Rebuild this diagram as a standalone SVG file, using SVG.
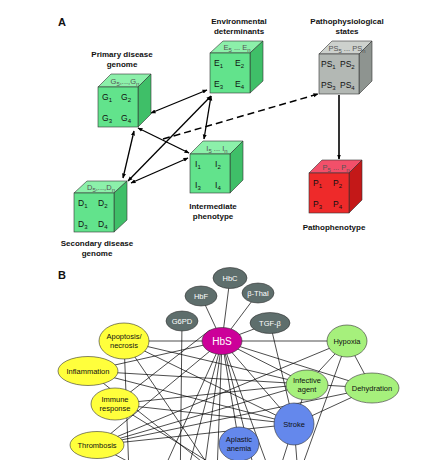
<svg xmlns="http://www.w3.org/2000/svg" width="424" height="460" viewBox="0 0 424 460">
<style>
text{font-family:"Liberation Sans",Arial,sans-serif;}
.lbl{font-size:8px;font-weight:bold;fill:#111;text-anchor:middle;}
.pl{font-size:11px;font-weight:bold;fill:#111;}
.ct{font-size:8.5px;fill:#111;}
.tt{font-size:7.5px;fill:#555;text-anchor:middle;}
.sub{font-size:6px;}
.gf{fill:#62e38c;stroke:#333;stroke-width:0.6;}
.gt{fill:#8cf0aa;stroke:#333;stroke-width:0.6;}
.gs{fill:#3fbf68;stroke:#333;stroke-width:0.6;}
.sf{fill:#b3b8b4;stroke:#333;stroke-width:0.6;}
.st{fill:#cdd1cd;stroke:#333;stroke-width:0.6;}
.ss{fill:#8e9490;stroke:#333;stroke-width:0.6;}
.rf{fill:#ee2a2a;stroke:#333;stroke-width:0.6;}
.rt{fill:#f2506a;stroke:#333;stroke-width:0.6;}
.rs{fill:#c41818;stroke:#333;stroke-width:0.6;}
.arr{stroke:#000;stroke-width:1.3;fill:none;marker-start:url(#ah);marker-end:url(#ah);}
.dash{stroke:#000;stroke-width:1.5;fill:none;stroke-dasharray:7,4;marker-end:url(#ah);}
.solid{stroke:#000;stroke-width:1.6;fill:none;marker-end:url(#ah);}
.net line{stroke:#000;stroke-width:0.7;}
.nt{font-size:7.5px;fill:#111;text-anchor:middle;}
.nw{font-size:7.5px;fill:#fff;text-anchor:middle;}
.gray{fill:#5e6e6c;stroke:#333;stroke-width:0.6;}
.yel{fill:#ffff3c;stroke:#333;stroke-width:0.6;}
.lg{fill:#a6f07c;stroke:#333;stroke-width:0.6;}
.blu{fill:#6488ec;stroke:#333;stroke-width:0.6;}
.mag{fill:#cc0099;stroke:#333;stroke-width:0.6;}
</style>
<defs>
<marker id="ah" viewBox="0 0 10 10" refX="9" refY="5" markerWidth="5" markerHeight="5" orient="auto-start-reverse" markerUnits="userSpaceOnUse">
<path d="M0,1 L10,5 L0,9 z" fill="#000"/>
</marker>
</defs>
<rect width="424" height="460" fill="#fff"/>
<text class="pl" x="58" y="26">A</text>
<text class="pl" x="58" y="279">B</text>

<g id="connectors-A">
<line class="arr" x1="151" y1="113" x2="207" y2="90"/>
<line class="arr" x1="138" y1="128" x2="189" y2="153"/>
<line class="arr" x1="134" y1="131" x2="123" y2="178"/>
<line class="arr" x1="211" y1="96" x2="128" y2="181"/>
<line class="arr" x1="211" y1="96" x2="204" y2="139"/>
<line class="arr" x1="188" y1="158" x2="131" y2="183"/>
<line class="dash" x1="163" y1="139" x2="318" y2="94"/>
<line class="solid" x1="339" y1="95" x2="339" y2="159"/>
</g>

<g id="primary-genome">
<polygon class="gt" points="98,87 111,74 151,74 138,87"/>
<polygon class="gs" points="138,87 151,74 151,114 138,127"/>
<rect class="gf" x="98" y="87" width="40" height="40"/>
<text class="tt" x="125" y="84">G<tspan class="sub" dy="1.5">5</tspan><tspan dy="-1.5">,...,G</tspan><tspan class="sub" dy="1.5">n</tspan></text>
<text class="ct" x="102" y="100">G<tspan class="sub" dy="1.5">1</tspan></text>
<text class="ct" x="121" y="100">G<tspan class="sub" dy="1.5">2</tspan></text>
<text class="ct" x="102" y="121">G<tspan class="sub" dy="1.5">3</tspan></text>
<text class="ct" x="121" y="121">G<tspan class="sub" dy="1.5">4</tspan></text>
<text class="lbl" x="122" y="57">Primary disease</text>
<text class="lbl" x="122" y="67">genome</text>
</g>

<g id="environmental">
<polygon class="gt" points="210,53 223,41 263,41 250,53"/>
<polygon class="gs" points="250,53 263,41 263,81 250,93"/>
<rect class="gf" x="210" y="53" width="40" height="40"/>
<text class="tt" x="237" y="50">E<tspan class="sub" dy="1.5">5</tspan><tspan dy="-1.5"> ... E</tspan><tspan class="sub" dy="1.5">n</tspan></text>
<text class="ct" x="214" y="66">E<tspan class="sub" dy="1.5">1</tspan></text>
<text class="ct" x="235" y="66">E<tspan class="sub" dy="1.5">2</tspan></text>
<text class="ct" x="214" y="87">E<tspan class="sub" dy="1.5">3</tspan></text>
<text class="ct" x="235" y="87">E<tspan class="sub" dy="1.5">4</tspan></text>
<text class="lbl" x="239" y="24">Environmental</text>
<text class="lbl" x="239" y="34">determinants</text>
</g>

<g id="pathophysiological">
<polygon class="st" points="319,54 332,41 372,41 359,54"/>
<polygon class="ss" points="359,54 372,41 372,81 359,94"/>
<rect class="sf" x="319" y="54" width="40" height="40"/>
<text class="tt" x="347" y="51">PS<tspan class="sub" dy="1.5">5</tspan><tspan dy="-1.5"> ... PS</tspan><tspan class="sub" dy="1.5">n</tspan></text>
<text class="ct" x="321" y="67">PS<tspan class="sub" dy="1.5">1</tspan></text>
<text class="ct" x="340" y="67">PS<tspan class="sub" dy="1.5">2</tspan></text>
<text class="ct" x="321" y="88">PS<tspan class="sub" dy="1.5">3</tspan></text>
<text class="ct" x="340" y="88">PS<tspan class="sub" dy="1.5">4</tspan></text>
<text class="lbl" x="347" y="24">Pathophysiological</text>
<text class="lbl" x="347" y="34">states</text>
</g>

<g id="pathophenotype">
<polygon class="rt" points="309,173 322,160 362,160 349,173"/>
<polygon class="rs" points="349,173 362,160 362,200 349,213"/>
<rect class="rf" x="309" y="173" width="40" height="40"/>
<text class="tt" x="336" y="170">P<tspan class="sub" dy="1.5">5</tspan><tspan dy="-1.5"> ... P</tspan><tspan class="sub" dy="1.5">n</tspan></text>
<text class="ct" x="313" y="186">P<tspan class="sub" dy="1.5">1</tspan></text>
<text class="ct" x="333" y="186">P<tspan class="sub" dy="1.5">2</tspan></text>
<text class="ct" x="313" y="207">P<tspan class="sub" dy="1.5">3</tspan></text>
<text class="ct" x="333" y="207">P<tspan class="sub" dy="1.5">4</tspan></text>
<text class="lbl" x="334" y="230">Pathophenotype</text>
</g>

<g id="intermediate">
<polygon class="gt" points="190,154 203,141 243,141 230,154"/>
<polygon class="gs" points="230,154 243,141 243,180 230,193"/>
<rect class="gf" x="190" y="154" width="40" height="39"/>
<text class="tt" x="217" y="151">I<tspan class="sub" dy="1.5">5</tspan><tspan dy="-1.5"> ... I</tspan><tspan class="sub" dy="1.5">n</tspan></text>
<text class="ct" x="195" y="167">I<tspan class="sub" dy="1.5">1</tspan></text>
<text class="ct" x="215" y="167">I<tspan class="sub" dy="1.5">2</tspan></text>
<text class="ct" x="195" y="188">I<tspan class="sub" dy="1.5">3</tspan></text>
<text class="ct" x="215" y="188">I<tspan class="sub" dy="1.5">4</tspan></text>
<text class="lbl" x="213" y="209">Intermediate</text>
<text class="lbl" x="213" y="219">phenotype</text>
</g>

<g id="secondary-genome">
<polygon class="gt" points="74,193 87,181 127,181 114,193"/>
<polygon class="gs" points="114,193 127,181 127,220 114,232"/>
<rect class="gf" x="74" y="193" width="40" height="39"/>
<text class="tt" x="101" y="190">D<tspan class="sub" dy="1.5">5</tspan><tspan dy="-1.5">,...,D</tspan><tspan class="sub" dy="1.5">n</tspan></text>
<text class="ct" x="78" y="206">D<tspan class="sub" dy="1.5">1</tspan></text>
<text class="ct" x="98" y="206">D<tspan class="sub" dy="1.5">2</tspan></text>
<text class="ct" x="78" y="227">D<tspan class="sub" dy="1.5">3</tspan></text>
<text class="ct" x="98" y="227">D<tspan class="sub" dy="1.5">4</tspan></text>
<text class="lbl" x="97" y="246">Secondary disease</text>
<text class="lbl" x="97" y="256">genome</text>
</g>

<g id="connectors-B" class="net">
<line x1="222" y1="341" x2="230" y2="278"/>
<line x1="222" y1="341" x2="258" y2="293"/>
<line x1="222" y1="341" x2="201" y2="296"/>
<line x1="222" y1="341" x2="270" y2="323"/>
<line x1="222" y1="341" x2="124" y2="341"/>
<line x1="222" y1="341" x2="347" y2="341"/>
<line x1="222" y1="341" x2="88" y2="371"/>
<line x1="222" y1="341" x2="97" y2="445"/>
<line x1="222" y1="341" x2="239" y2="443"/>
<line x1="222" y1="341" x2="294" y2="424"/>
<line x1="222" y1="341" x2="307" y2="384"/>
<line x1="222" y1="341" x2="372" y2="388"/>
<line x1="222" y1="341" x2="150" y2="500"/>
<line x1="222" y1="341" x2="180" y2="500"/>
<line x1="222" y1="341" x2="200" y2="500"/>
<line x1="222" y1="341" x2="216" y2="500"/>
<line x1="222" y1="341" x2="262" y2="500"/>
<line x1="222" y1="341" x2="280" y2="500"/>
<line x1="182" y1="321" x2="180" y2="500"/>
<line x1="124" y1="341" x2="294" y2="424"/>
<line x1="124" y1="341" x2="232" y2="500"/>
<line x1="124" y1="341" x2="307" y2="384"/>
<line x1="88" y1="371" x2="294" y2="424"/>
<line x1="88" y1="371" x2="372" y2="388"/>
<line x1="88" y1="371" x2="250" y2="500"/>
<line x1="115" y1="404" x2="307" y2="384"/>
<line x1="115" y1="404" x2="294" y2="424"/>
<line x1="115" y1="404" x2="210" y2="330"/>
<line x1="115" y1="404" x2="270" y2="500"/>
<line x1="97" y1="445" x2="372" y2="388"/>
<line x1="97" y1="445" x2="307" y2="384"/>
<line x1="97" y1="445" x2="294" y2="424"/>
<line x1="97" y1="445" x2="347" y2="341"/>
<line x1="97" y1="445" x2="200" y2="500"/>
<line x1="347" y1="341" x2="307" y2="384"/>
<line x1="347" y1="341" x2="372" y2="388"/>
<line x1="347" y1="341" x2="290" y2="500"/>
<line x1="270" y1="323" x2="294" y2="424"/>
<line x1="294" y1="424" x2="300" y2="500"/>
<line x1="307" y1="384" x2="270" y2="500"/>
<line x1="372" y1="388" x2="294" y2="424"/>
<line x1="239" y1="443" x2="240" y2="500"/>
<line x1="124" y1="341" x2="130" y2="500"/>
</g>

<g id="node-hbc"><ellipse class="gray" cx="230" cy="278" rx="17" ry="10.5"/><text class="nw" x="230" y="281">HbC</text></g>
<g id="node-bthal"><ellipse class="gray" cx="258" cy="293" rx="16" ry="10"/><text class="nw" x="258" y="296">β-Thal</text></g>
<g id="node-hbf"><ellipse class="gray" cx="201" cy="296" rx="16" ry="10"/><text class="nw" x="201" y="299">HbF</text></g>
<g id="node-g6pd"><ellipse class="gray" cx="182" cy="321" rx="16" ry="10"/><text class="nw" x="182" y="324">G6PD</text></g>
<g id="node-tgfb"><ellipse class="gray" cx="270" cy="323" rx="20" ry="10.5"/><text class="nw" x="270" y="326">TGF-β</text></g>
<g id="node-hbs"><ellipse class="mag" cx="222" cy="341" rx="20" ry="13.5"/><text class="nw" x="222" y="345" style="font-size:10px">HbS</text></g>
<g id="node-hypoxia"><ellipse class="lg" cx="347" cy="341" rx="20" ry="16"/><text class="nt" x="347" y="344">Hypoxia</text></g>
<g id="node-apoptosis"><ellipse class="yel" cx="124" cy="341" rx="25" ry="18"/><text class="nt" x="124" y="339">Apoptosis/</text><text class="nt" x="124" y="348">necrosis</text></g>
<g id="node-inflammation"><ellipse class="yel" cx="88" cy="371" rx="30" ry="14.5"/><text class="nt" x="88" y="374">Inflammation</text></g>
<g id="node-immune"><ellipse class="yel" cx="115" cy="404" rx="24" ry="16"/><text class="nt" x="115" y="402">Immune</text><text class="nt" x="115" y="411">response</text></g>
<g id="node-thrombosis"><ellipse class="yel" cx="97" cy="445" rx="27" ry="13.5"/><text class="nt" x="97" y="448">Thrombosis</text></g>
<g id="node-infective"><ellipse class="lg" cx="307" cy="385" rx="21" ry="15"/><text class="nt" x="307" y="383">Infective</text><text class="nt" x="307" y="392">agent</text></g>
<g id="node-dehydration"><ellipse class="lg" cx="372" cy="388" rx="27" ry="15"/><text class="nt" x="372" y="391">Dehydration</text></g>
<g id="node-stroke"><ellipse class="blu" cx="294" cy="424" rx="20" ry="21"/><text class="nt" x="294" y="427">Stroke</text></g>
<g id="node-aplastic"><ellipse class="blu" cx="239" cy="444" rx="20" ry="17"/><text class="nt" x="239" y="442">Aplastic</text><text class="nt" x="239" y="451">anemia</text></g>
</svg>
